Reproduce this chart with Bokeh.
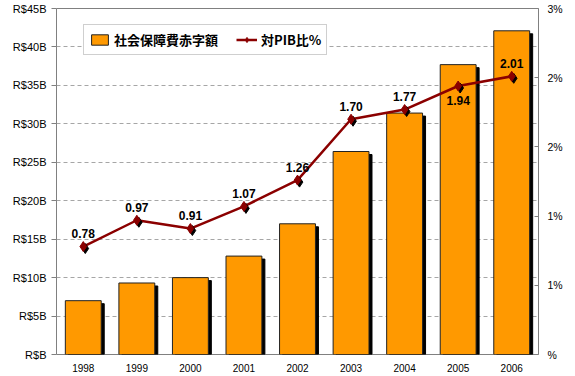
import numpy as np
from bokeh.plotting import figure
from bokeh.models import (FactorRange, Range1d, LinearAxis, FixedTicker, Legend,
                          LegendItem, ColumnDataSource)
from bokeh.transform import dodge
from bokeh.embed import file_html
from bokeh.resources import INLINE

# ---- data ----
years = ["1998", "1999", "2000", "2001", "2002", "2003", "2004", "2005", "2006"]
deficit_b = [7.0, 9.3, 10.0, 12.8, 17.0, 26.4, 31.4, 37.7, 42.1]
pib_ratio = [0.78, 0.97, 0.91, 1.07, 1.26, 1.70, 1.77, 1.94, 2.01]
label_pos = ["above", "above", "above", "above", "above", "above", "above", "below", "above"]

left_ticks = [0, 5, 10, 15, 20, 25, 30, 35, 40, 45]
left_labels = ["R$B", "R$5B", "R$10B", "R$15B", "R$20B", "R$25B", "R$30B", "R$35B", "R$40B", "R$45B"]
right_ticks = [0, 0.5, 1.0, 1.5, 2.0, 2.5]
right_labels = ["%", "1%", "1%", "2%", "2%", "3%"]

bar_name = "社会保障費赤字額"
line_name = "対PIB比%"

# ---- styling constants ----
W, H = 575, 376
BORDER_L, BORDER_R, BORDER_T, BORDER_B = 56, 37, 8, 22
frame_h = H - BORDER_T - BORDER_B
px_per_b = frame_h / (left_ticks[-1] - left_ticks[0])
px_per_pct = frame_h / (right_ticks[-1] - right_ticks[0])
frame_w = W - BORDER_L - BORDER_R
px_per_cat = frame_w / len(years)

BAR_COLOR = "#FF9900"
LINE_COLOR = "#8B0000"
GRAY = "#808080"
FONT = "Liberation Sans"

p = figure(width=W, height=H, output_backend="svg", toolbar_location=None,
           x_range=FactorRange(factors=years),
           y_range=Range1d(left_ticks[0], left_ticks[-1]),
           min_border_left=BORDER_L, min_border_right=BORDER_R,
           min_border_top=BORDER_T, min_border_bottom=BORDER_B,
           background_fill_color="white", border_fill_color="white")
p.extra_y_ranges = {"pct": Range1d(right_ticks[0], right_ticks[-1])}
p.outline_line_color = GRAY
p.outline_line_width = 1

shadow_dx_bar = 3 / px_per_cat
shadow_dy_bar = 3 / px_per_b
src = ColumnDataSource(dict(
    year=years,
    deficit=deficit_b,
    shadow_top=list(np.array(deficit_b) - shadow_dy_bar),
    ratio=pib_ratio,
    ratio_shadow=list(np.array(pib_ratio) - 2 / px_per_pct),
))

# bar shadows
p.vbar(x=dodge("year", shadow_dx_bar, range=p.x_range), top="shadow_top", bottom=0,
       width=0.67, source=src, fill_color="black", line_color="black")
bars = p.vbar(x="year", top="deficit", bottom=0, width=0.67, source=src,
              fill_color=BAR_COLOR, line_color="#222222", line_width=1)

# line
line = p.line(x="year", y="ratio", source=src, y_range_name="pct",
              line_color=LINE_COLOR, line_width=2.5)
p.scatter(x=dodge("year", 2 / px_per_cat, range=p.x_range), y="ratio_shadow", source=src,
          y_range_name="pct", marker="diamond", size=10, fill_color="black", line_color="black")
marks = p.scatter(x="year", y="ratio", source=src, y_range_name="pct", marker="diamond",
                  size=10, fill_color=LINE_COLOR, line_color=LINE_COLOR)

# data labels
above_idx = [i for i, s in enumerate(label_pos) if s == "above"]
below_idx = [i for i, s in enumerate(label_pos) if s == "below"]
for idx, off in ((above_idx, -13), (below_idx, 14)):
    s = ColumnDataSource(dict(year=[years[i] for i in idx],
                              ratio=[pib_ratio[i] for i in idx],
                              label=[f"{pib_ratio[i]:.2f}" for i in idx]))
    p.text(x="year", y="ratio", text="label", source=s, y_range_name="pct",
           text_align="center", text_baseline="middle", y_offset=off,
           text_font_size="12px", text_font_style="bold", text_color="black",
           text_font={"value": FONT})

# axes
p.yaxis.ticker = FixedTicker(ticks=left_ticks)
p.yaxis.major_label_overrides = {t: l for t, l in zip(left_ticks, left_labels)}
p.yaxis.axis_line_color = None
p.yaxis.major_tick_line_color = GRAY
p.yaxis.major_tick_out = 5
p.yaxis.major_tick_in = 0
p.yaxis.minor_tick_line_color = None
p.yaxis.major_label_standoff = 5

ra = LinearAxis(y_range_name="pct", ticker=FixedTicker(ticks=right_ticks))
ra.major_label_overrides = {t: l for t, l in zip(right_ticks, right_labels)}
ra.axis_line_color = None
ra.major_tick_line_color = GRAY
ra.major_tick_out = 0
ra.major_tick_in = 4
ra.minor_tick_line_color = None
ra.major_label_standoff = 9
p.add_layout(ra, "right")

p.xaxis.axis_line_color = None
p.xaxis.major_tick_line_color = None
p.xaxis.major_tick_out = 0
p.xaxis.major_label_standoff = 9

for ax, fs in ((p.yaxis[0], "11px"), (ra, "10.5px"), (p.xaxis[0], "10px")):
    ax.major_label_text_font = FONT
    ax.major_label_text_font_size = fs
    ax.major_label_text_color = "black"

p.xgrid.grid_line_color = None
p.ygrid.ticker = FixedTicker(ticks=left_ticks)
p.ygrid.grid_line_color = "#a6a6a6"
p.ygrid.grid_line_dash = "4 3"
p.ygrid.grid_line_width = 1

legend = Legend(items=[LegendItem(label=bar_name, renderers=[bars]),
                       LegendItem(label=line_name, renderers=[line, marks])],
                orientation="horizontal", location=(27, frame_h - 47),
                label_text_font="Noto Sans CJK JP", label_text_font_style="bold",
                label_text_font_size="13px", label_text_color="black",
                glyph_width=21, glyph_height=13, label_height=17,
                label_standoff=4, spacing=18, padding=5, margin=0,
                border_line_color="#a0a0a0", border_line_width=1,
                background_fill_color="white", background_fill_alpha=1)
p.add_layout(legend)

open("out.html", "w").write(file_html(p, INLINE))
